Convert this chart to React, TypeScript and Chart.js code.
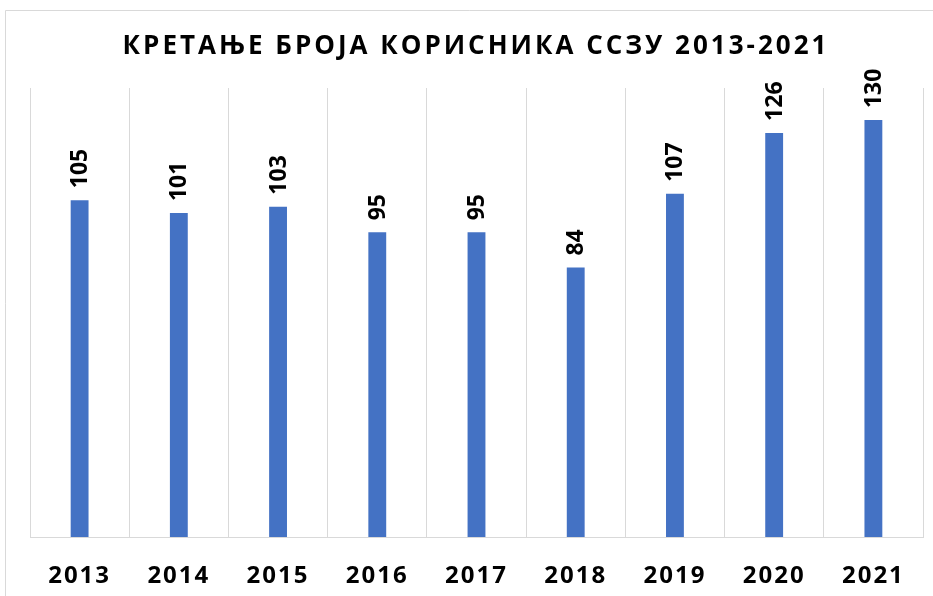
import React, { useEffect, useRef } from "react";
import { Chart, registerables } from "chart.js";

Chart.register(...registerables);

const categories = ["2013", "2014", "2015", "2016", "2017", "2018", "2019", "2020", "2021"];
const values = [105, 101, 103, 95, 95, 84, 107, 126, 130];
const titleText = "КРЕТАЊЕ БРОЈА КОРИСНИКА ССЗУ 2013-2021";

const FONT = '"Open Sans", "Noto Sans", sans-serif';
const GRID = "#d9d9d9";
const BAR = "#4472C4";

const framePlugin = {
  id: "frame",
  beforeDraw(chart: any) {
    const ctx = chart.ctx;
    ctx.save();
    ctx.fillStyle = "#ffffff";
    ctx.fillRect(0, 0, chart.width, chart.height);
    ctx.strokeStyle = GRID;
    ctx.lineWidth = 1;
    ctx.beginPath();
    ctx.moveTo(5.5, chart.height);
    ctx.lineTo(5.5, 10.5);
    ctx.lineTo(chart.width, 10.5);
    ctx.stroke();
    ctx.restore();
    ctx.letterSpacing = "2px";
  },
  beforeDatasetsDraw(chart: any) {
    chart.ctx.letterSpacing = "0px";
  },
  afterDatasetsDraw(chart: any) {
    const ctx = chart.ctx;
    const meta = chart.getDatasetMeta(0);
    ctx.save();
    ctx.fillStyle = "#000000";
    ctx.font = `bold 23px ${FONT}`;
    ctx.letterSpacing = "0px";
    meta.data.forEach((bar: any, i: number) => {
      ctx.save();
      ctx.translate(bar.x + 1, bar.y - 12);
      ctx.rotate(-Math.PI / 2);
      ctx.textAlign = "left";
      ctx.textBaseline = "middle";
      ctx.fillText(String(values[i]), 0, 0);
      ctx.restore();
    });
    ctx.restore();
  },
  afterDraw(chart: any) {
    const ctx = chart.ctx;
    ctx.save();
    ctx.fillStyle = "#000000";
    ctx.font = `bold 26px ${FONT}`;
    ctx.letterSpacing = "3px";
    ctx.textAlign = "center";
    ctx.textBaseline = "middle";
    ctx.fillText(titleText, 476, 47);
    ctx.restore();
    ctx.letterSpacing = "0px";
  },
};

export default function App() {
  const ref = useRef<HTMLCanvasElement>(null);
  useEffect(() => {
    if (!ref.current) return;
    const chart = new Chart(ref.current, {
      type: "bar",
      data: {
        labels: categories,
        datasets: [
          {
            data: values,
            backgroundColor: BAR,
            borderWidth: 0,
            barPercentage: 0.18,
            categoryPercentage: 1,
          },
        ],
      },
      options: {
        animation: false,
        responsive: false,
        maintainAspectRatio: false,
        devicePixelRatio: 1,
        layout: { padding: { left: 30, right: 10, top: 88, bottom: 5 } },
        plugins: {
          legend: { display: false },
          title: { display: false },
          tooltip: { enabled: false },
        },
        scales: {
          x: {
            afterFit: (scale: any) => {
              scale.height = 54;
            },
            grid: {
              color: GRID,
              lineWidth: 1,
              drawTicks: false,
              offset: true,
            },
            border: { color: GRID, width: 1 },
            ticks: {
              color: "#000000",
              padding: 25,
              font: { family: FONT, size: 24, weight: "bold" },
            },
          },
          y: {
            display: false,
            min: 0,
            max: 140,
          },
        },
      },
      plugins: [framePlugin],
    });
    return () => chart.destroy();
  }, []);
  return (
    <div style={{ position: "absolute", left: 0, top: 0, width: 933, height: 596, background: "#fff" }}>
      <canvas ref={ref} width={933} height={596} style={{ width: 933, height: 596, display: "block" }} />
    </div>
  );
}
